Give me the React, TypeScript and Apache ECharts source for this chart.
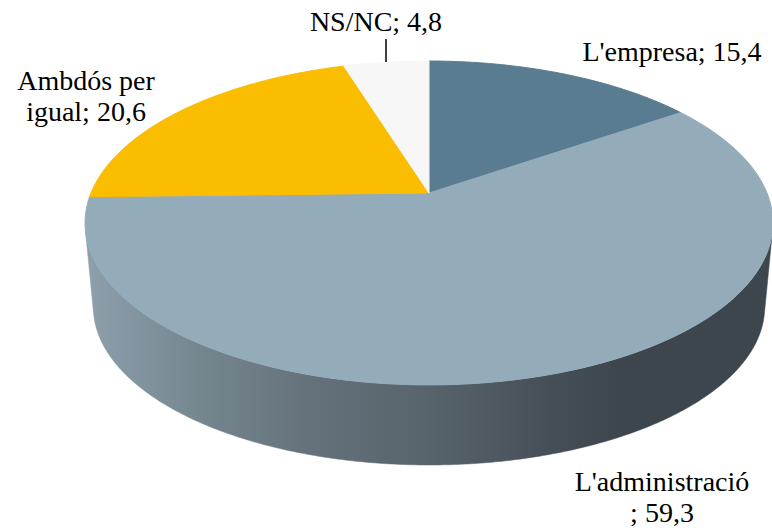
import React, { useEffect, useRef } from 'react';
import * as echarts from 'echarts';

// ---- data ----
const categories = ["L'empresa", "L'administració", "Ambdós per igual", "NS/NC"];
const values = [15.4, 59.3, 20.6, 4.8];

// ---- styles / layout (kept apart from the data) ----
const colors = ['#5A7C90', '#94ACBA', '#FABD00', '#F7F7F7'];
const labelLayout: { x: number; y: number; breakAt: number | null; leader?: number[] }[] = [
  { x: 672, y: 36, breakAt: null },
  { x: 662, y: 466, breakAt: 15 },
  { x: 86, y: 65, breakAt: 10 },
  { x: 376, y: 6, breakAt: null, leader: [386, 39, 386, 62] },
];
const LABEL_FONT = "28px 'Liberation Serif', 'DejaVu Serif', serif";

// projection of the tilted disc (perspective)
const CX = 429, CY = 193, SX = 338, SY = 156.4, P = 0.185;
const BCY = 277.7, BS = 0.976;

function topPt(phiDeg: number): number[] {
  const r = (phiDeg * Math.PI) / 180;
  const X = Math.cos(r), Y = Math.sin(r);
  const w = 1 / (1 - P * Y);
  return [CX + X * SX * w, CY + Y * SY * w];
}
function botPt(phiDeg: number): number[] {
  const [x, y] = topPt(phiDeg);
  return [CX + (x - CX) * BS, BCY + (y - CY) * BS];
}

// visible (front) range of the side wall
function visibleRange(): [number, number] {
  let vR = 90, vL = 90;
  let first = true;
  for (let f = -90; f <= 270; f += 0.25) {
    const a = topPt(f - 0.01), b = topPt(f + 0.01);
    const t = [b[0] - a[0], b[1] - a[1]];
    const tp = topPt(f), bp = botPt(f);
    const d = [bp[0] - tp[0], bp[1] - tp[1]];
    const cr = t[0] * d[1] - t[1] * d[0];
    if (cr < 0) {
      if (first) { vR = f; first = false; }
      vL = f;
    }
  }
  return [vR, vL];
}

function fmt(v: number) {
  return v.toFixed(1).replace('.', ',');
}

export default function App() {
  const ref = useRef<HTMLDivElement>(null);
  useEffect(() => {
    if (!ref.current) return;
    const chart = echarts.init(ref.current, undefined, { renderer: 'svg' });
    const total = values.reduce((s, v) => s + v, 0);
    const [vR, vL] = visibleRange();
    const sideFill = new echarts.graphic.LinearGradient(84, 0, 772, 0, [
      { offset: 0, color: '#8DA0AC' },
      { offset: 0.169, color: '#75868F' },
      { offset: 0.314, color: '#66737C' },
      { offset: 0.496, color: '#58646C' },
      { offset: 0.677, color: '#454F57' },
      { offset: 0.78, color: '#3D464D' },
      { offset: 1, color: '#3D464D' },
    ], true);

    const option: any = {
      animation: false,
      series: [
        {
          type: 'custom',
          coordinateSystem: 'none',
          silent: true,
          data: values.map((v, i) => ({ value: v, name: categories[i] })),
          renderItem: (params: any, api: any) => {
            const i = params.dataIndex;
            const v = api.value(0);
            let before = 0;
            for (let k = 0; k < i; k++) before += values[k];
            const a0 = -90 + (before / total) * 360;
            const a1 = -90 + ((before + v) / total) * 360;
            const children: any[] = [];
            // side wall
            const s0 = Math.max(a0, vR), s1 = Math.min(a1, vL);
            if (s1 > s0) {
              const n = Math.ceil((s1 - s0) / 0.5);
              const pts: number[][] = [];
              for (let k = 0; k <= n; k++) pts.push(topPt(s0 + ((s1 - s0) * k) / n));
              for (let k = n; k >= 0; k--) pts.push(botPt(s0 + ((s1 - s0) * k) / n));
              children.push({
                type: 'polygon', z2: 1,
                shape: { points: pts },
                style: { fill: sideFill, stroke: sideFill, lineWidth: 0.5 },
              });
            }
            // top face
            const n2 = Math.ceil((a1 - a0) / 0.5);
            const tp: number[][] = [[CX, CY]];
            for (let k = 0; k <= n2; k++) tp.push(topPt(a0 + ((a1 - a0) * k) / n2));
            children.push({
              type: 'polygon', z2: 10,
              shape: { points: tp },
              style: { fill: colors[i], stroke: colors[i], lineWidth: 1 },
            });
            // label
            const lay = labelLayout[i];
            let txt = `${categories[i]}; ${fmt(v)}`;
            if (lay.breakAt != null) {
              txt = txt.slice(0, lay.breakAt).trimEnd() + '\n' + txt.slice(lay.breakAt).trimStart();
            }
            children.push({
              type: 'text', z2: 20, x: lay.x, y: lay.y,
              style: {
                text: txt, fill: '#000', font: LABEL_FONT,
                align: 'center', verticalAlign: 'top', lineHeight: 31,
              },
            });
            if (lay.leader) {
              children.push({
                type: 'line', z2: 20,
                shape: { x1: lay.leader[0], y1: lay.leader[1], x2: lay.leader[2], y2: lay.leader[3] },
                style: { stroke: '#000', lineWidth: 1.5 },
              });
            }
            return { type: 'group', children };
          },
        },
      ],
    };
    chart.setOption(option);
    return () => chart.dispose();
  }, []);
  return (
    <div
      ref={ref}
      style={{ position: 'fixed', left: 0, top: 0, width: 772, height: 528, background: '#fff' }}
    />
  );
}
